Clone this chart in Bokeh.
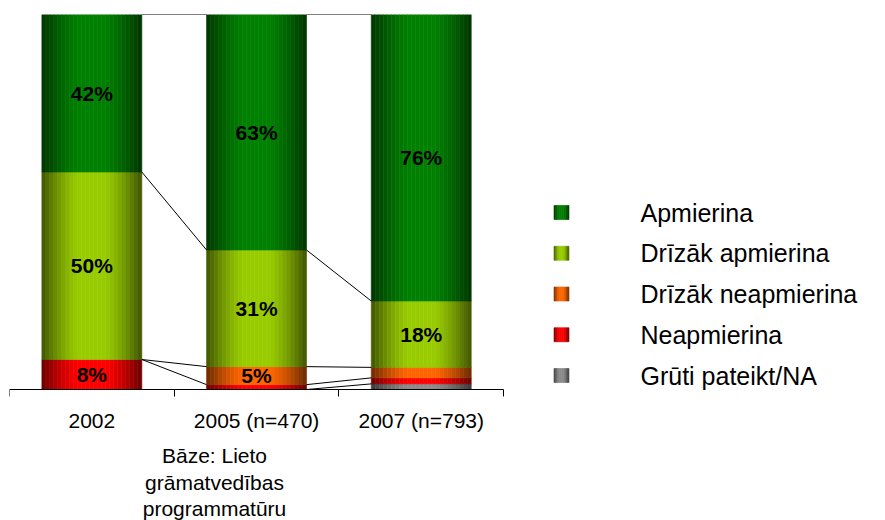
import math
from bokeh.plotting import figure
from bokeh.models import Range1d, FixedTicker, ColumnDataSource
from bokeh.core.properties import value
from bokeh.embed import file_html
from bokeh.resources import INLINE

# ---- data ----
years = ["2002", "2005 (n=470)", "2007 (n=793)"]
series_names = ["Grūti pateikt/NA", "Neapmierina", "Drīzāk neapmierina",
                "Drīzāk apmierina", "Apmierina"]          # bottom -> top
gruti = [0, 0, 1.5]
neapmierina = [8, 1.3, 1.6]
drizak_neapm = [0, 4.8, 2.8]
drizak_apm = [50, 31.1, 17.7]
apmierina = [42, 62.8, 76.4]
series_values = [gruti, neapmierina, drizak_neapm, drizak_apm, apmierina]
series_colors = ["#8c8c8c", "#ff0000", "#ff6600", "#99cc00", "#008000"]
legend_order = ["Apmierina", "Drīzāk apmierina", "Drīzāk neapmierina",
                "Neapmierina", "Grūti pateikt/NA"]
base_note = ["Bāze: Lieto", "grāmatvedības", "programmatūru"]

FONT = value("Liberation Sans")

W, H = 885, 520
LEFT = 9
CAT_PX = 164.7
FRAME_TOP = 14
ZERO_PX = 389
PXU = (ZERO_PX - FRAME_TOP) / 100.0
x_end = (W - LEFT) / CAT_PX
y_min = -(H - ZERO_PX) / PXU


def ypx(py):
    return (ZERO_PX - py) / PXU


def xpx(px):
    return (px - LEFT) / CAT_PX


p = figure(width=W, height=H, output_backend="svg", toolbar_location=None,
           x_range=Range1d(0, x_end), y_range=Range1d(y_min, 100),
           min_border_left=LEFT, min_border_right=0, min_border_top=FRAME_TOP,
           min_border_bottom=0)
p.outline_line_color = None
p.background_fill_color = "white"
p.border_fill_color = "white"
p.grid.visible = False
p.yaxis.visible = False


def hex2rgb(h):
    h = h.lstrip("#")
    return tuple(int(h[i:i + 2], 16) for i in (0, 2, 4))


def shade(c, t):
    r, g, b = hex2rgb(c)
    f = min(1.0, 1.1 * math.sin(math.pi * t))
    k = 0.42 + 0.58 * f
    return "#%02x%02x%02x" % (int(r * k), int(g * k), int(b * k))


strip = dict(x=[], w=[], b=[], t=[], c=[])


def add_gradient(cx, width, bottom, top, color, n=25):
    sw = width / n
    for i in range(n):
        tt = (i + 0.5) / n
        strip["x"].append(cx - width / 2 + sw * (i + 0.5))
        strip["w"].append(sw)
        strip["b"].append(bottom)
        strip["t"].append(top)
        strip["c"].append(shade(color, tt))


BAR_W = 0.607
centers = [i + 0.5 for i in range(len(years))]

cums = []
for j in range(len(years)):
    acc = [0.0]
    for s in series_values:
        acc.append(acc[-1] + s[j])
    cums.append(acc)

lab_x, lab_y, lab_t = [], [], []
for j, cx in enumerate(centers):
    for k, s in enumerate(series_values):
        b, t = cums[j][k], cums[j][k + 1]
        if t - b > 0:
            add_gradient(cx, BAR_W, b, t, series_colors[k])
        if s[j] >= 4.5:
            lab_x.append(cx)
            lab_y.append((b + t) / 2)
            lab_t.append("%d%%" % round(s[j]))

# legend (gradient icons + text)
LEG_ROW0 = 212
LEG_DY = 40.75
ICON_W = 15 / CAT_PX
ICON_H = 14 / PXU
leg_x, leg_y, leg_t = [], [], []
for r, name in enumerate(legend_order):
    yv = ypx(LEG_ROW0 + r * LEG_DY)
    col = series_colors[series_names.index(name)]
    add_gradient(xpx(561), ICON_W, yv - ICON_H / 2, yv + ICON_H / 2, col, n=8)
    leg_x.append(xpx(640))
    leg_y.append(yv)
    leg_t.append(name)

p.vbar(x="x", width="w", bottom="b", top="t", fill_color="c", line_color="c",
       line_width=0.6, source=ColumnDataSource(strip))

# series lines
sx0, sy0, sx1, sy1 = [], [], [], []
for j in range(len(years) - 1):
    for k in range(0, len(series_values) + 1):
        sx0.append(centers[j] + BAR_W / 2)
        sy0.append(cums[j][k])
        sx1.append(centers[j + 1] - BAR_W / 2)
        sy1.append(cums[j + 1][k])
p.segment(x0=sx0, y0=sy0, x1=sx1, y1=sy1, line_color="black", line_width=1)

p.text(x=lab_x, y=lab_y, text=lab_t, text_font=FONT, text_font_style="bold",
       text_font_size="21px", text_align="center", text_baseline="middle",
       text_color="black")

p.text(x=leg_x, y=leg_y, text=leg_t, text_font=FONT, text_font_size="25px",
       text_align="left", text_baseline="middle", text_color="black")

# base note under the middle category
note_y = [ypx(455), ypx(482), ypx(508)]
p.text(x=[xpx(214)] * 3, y=note_y, text=base_note, text_font=FONT,
       text_font_size="21px", text_align="center", text_baseline="alphabetic",
       text_color="black")

# x axis at y = 0
ax = p.xaxis[0]
ax.fixed_location = 0
ax.ticker = FixedTicker(ticks=centers, minor_ticks=[0, 1, 2, 3])
ax.major_label_overrides = {c: y for c, y in zip(centers, years)}
ax.bounds = (0, len(years))
ax.axis_line_color = "black"
ax.major_tick_out = 0
ax.major_tick_in = 0
ax.minor_tick_out = 7
ax.minor_tick_in = 0
ax.minor_tick_line_color = "black"
ax.major_label_standoff = 12
ax.major_label_text_font = "Liberation Sans"
ax.major_label_text_font_size = "21px"
ax.major_label_text_color = "black"

open("out.html", "w").write(file_html(p, INLINE))
